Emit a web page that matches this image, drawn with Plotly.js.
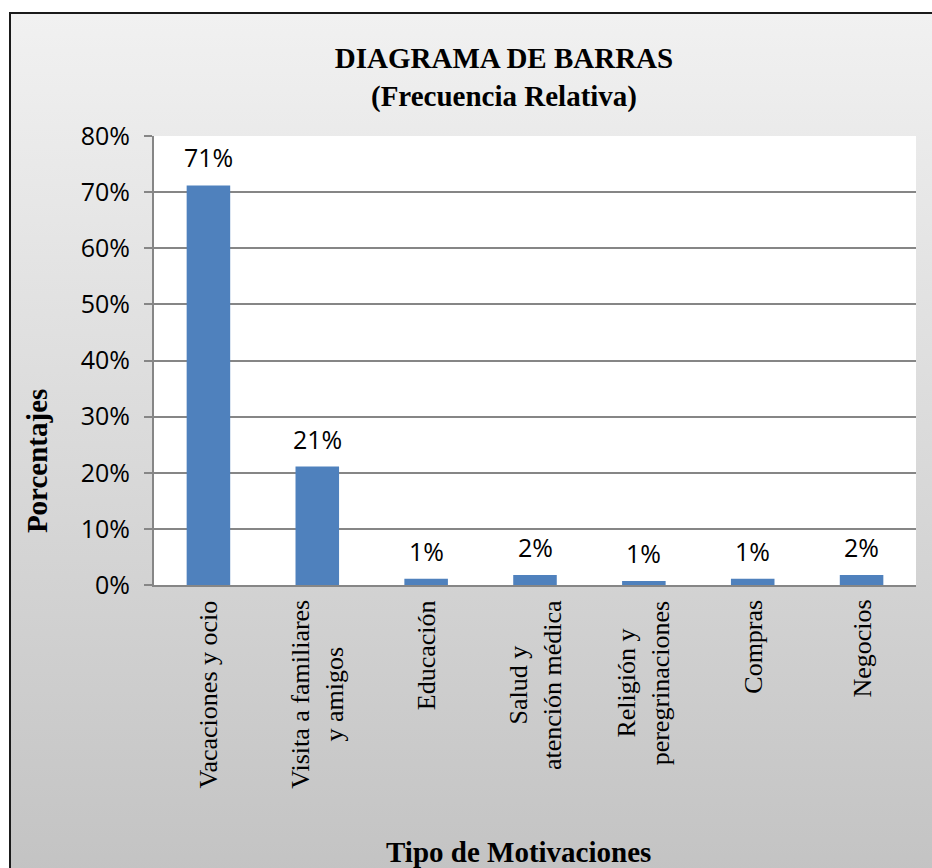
<!DOCTYPE html>
<html>
<head>
<meta charset="utf-8">
<script src="https://cdn.plot.ly/plotly-3.0.1.min.js"></script>
<style>
  html, body { margin: 0; padding: 0; background: #ffffff; width: 932px; height: 868px; overflow: hidden; }
  #frame {
    position: absolute; left: 9px; top: 12px; width: 980px; height: 900px;
    border: 2px solid #1a1a1a;
    background: linear-gradient(to bottom, #f1f1f1 0%, #c1c1c1 100%);
  }
  #chart { position: absolute; left: 0; top: 0; width: 932px; height: 868px; }
</style>
</head>
<body>
<div id="frame"></div>
<div id="chart"></div>
<script>
// Data
const categorias = ['Vacaciones y ocio', 'Visita a familiares y amigos', 'Educación', 'Salud y atención médica', 'Religión y peregrinaciones', 'Compras', 'Negocios'];
const etiquetas = ['Vacaciones y ocio', 'Visita a familiares<br>y amigos', 'Educación', 'Salud y<br>atención médica', 'Religión y<br>peregrinaciones', 'Compras', 'Negocios'];
const porcentajes = [0.712, 0.211, 0.011, 0.018, 0.007, 0.011, 0.018];
const yTicks = [0, 0.1, 0.2, 0.3, 0.4, 0.5, 0.6, 0.7, 0.8];

const SERIF = 'Liberation Serif';
const SANS = 'Open Sans';
const GRID = '#868686';

const annotations = [];
// data labels
porcentajes.forEach((v, i) => {
  annotations.push({
    x: categorias[i], y: v, xref: 'x', yref: 'y',
    text: Math.round(v * 100) + '%',
    showarrow: false, yanchor: 'middle', xanchor: 'center', yshift: 28,
    font: {family: SANS, size: 25, color: '#000000'}
  });
});
// category labels (rotated, centered lines)
etiquetas.forEach((t, i) => {
  annotations.push({
    x: categorias[i], y: 0, xref: 'x', yref: 'y',
    text: t, textangle: -90, align: 'center',
    showarrow: false, xanchor: 'center', yanchor: 'top', yshift: -13,
    font: {family: SERIF, size: 26, color: '#000000'}
  });
});
// axis titles
annotations.push({
  x: -0.1535, y: 0.276, xref: 'paper', yref: 'paper',
  text: 'Porcentajes', textangle: -90, showarrow: false,
  xanchor: 'center', yanchor: 'middle',
  font: {family: SERIF, size: 29, color: '#000000', weight: 'bold'}
});
annotations.push({
  x: 0.4777, y: -0.5947, xref: 'paper', yref: 'paper',
  text: 'Tipo de Motivaciones', showarrow: false,
  xanchor: 'center', yanchor: 'middle',
  font: {family: SERIF, size: 29, color: '#000000', weight: 'bold'}
});

const trace = {
  type: 'bar', x: categorias, y: porcentajes,
  marker: {color: '#4f81bd'},
  hoverinfo: 'skip'
};

const layout = {
  width: 932, height: 868,
  margin: {l: 154, r: 16, t: 136, b: 283},
  paper_bgcolor: 'rgba(0,0,0,0)',
  plot_bgcolor: '#ffffff',
  bargap: 0.6,
  showlegend: false,
  title: {
    text: 'DIAGRAMA DE BARRAS<br>(Frecuencia Relativa)',
    x: 504 / 932, xref: 'container', xanchor: 'center',
    y: 1 - 68 / 868, yref: 'container', yanchor: 'middle',
    font: {family: SERIF, size: 29, color: '#000000', weight: 'bold'}
  },
  xaxis: {
    type: 'category', showticklabels: false, ticks: '',
    showline: true, linecolor: GRID, linewidth: 2,
    showgrid: false, zeroline: false, fixedrange: true
  },
  yaxis: {
    range: [0, 0.8], tickvals: yTicks, tickformat: '.0%',
    showgrid: true, gridcolor: GRID, gridwidth: 2,
    showline: true, linecolor: GRID, linewidth: 2,
    ticks: 'outside', ticklen: 8, tickcolor: GRID, tickwidth: 2,
    ticklabelstandoff: 9,
    zeroline: false,
    tickfont: {family: SANS, size: 25, color: '#000000'},
    fixedrange: true
  },
  annotations: annotations
};

Plotly.newPlot('chart', [trace], layout, {displayModeBar: false, staticPlot: true});
</script>
</body>
</html>
